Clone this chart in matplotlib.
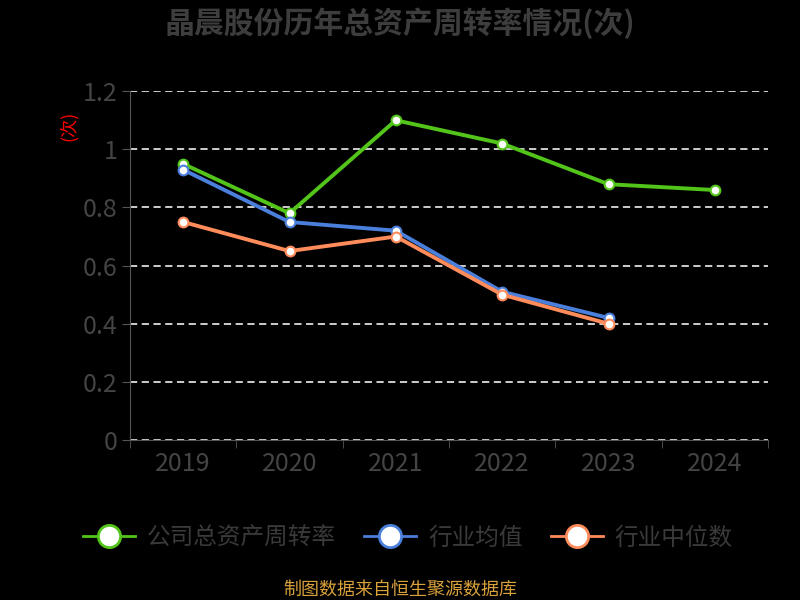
import matplotlib
matplotlib.use('Agg')
import matplotlib.pyplot as plt
from matplotlib.lines import Line2D

plt.rcParams['font.family'] = ['Noto Sans CJK SC', 'DejaVu Sans']

years = ['2019', '2020', '2021', '2022', '2023', '2024']
company = [0.95, 0.78, 1.10, 1.02, 0.88, 0.86]
industry_avg = [0.93, 0.75, 0.72, 0.51, 0.42]
industry_med = [0.75, 0.65, 0.70, 0.50, 0.40]

names = ['公司总资产周转率', '行业均值', '行业中位数']
colors = ['#52c41a', '#4a7fdc', '#ff8c5a']
text_gray = '#444444'

fig = plt.figure(figsize=(8, 6), dpi=100, facecolor='black')
ax = fig.add_axes([0.1625, 0.2667, 0.7975, 0.5813])
ax.set_facecolor('black')

x = list(range(len(years)))
for vals, c in zip([company, industry_avg, industry_med], colors):
    ax.plot(x[:len(vals)], vals, color=c, lw=2.8, marker='o', ms=7,
            mfc='white', mec=c, mew=1.5, zorder=3)

ax.set_xlim(-0.5, 5.5)
ax.set_ylim(0, 1.2)
ax.set_yticks([0, 0.2, 0.4, 0.6, 0.8, 1.0, 1.2])
ax.set_yticklabels(['0', '0.2', '0.4', '0.6', '0.8', '1', '1.2'])
ax.set_xticks(x)
ax.set_xticklabels(years)
ax.set_xticks([i + 0.5 for i in range(-1, 6)], minor=True)
ax.tick_params(axis='x', which='major', length=0, colors=text_gray, labelsize=18, pad=8)
ax.tick_params(axis='x', which='minor', length=6, color='#555555')
ax.tick_params(axis='y', length=6, color='#555555', colors=text_gray, labelsize=18, pad=3)
ax.yaxis.grid(True, color='#dddddd', ls=(0, (4, 2.5)), lw=1.3)
for s in ['top', 'right']:
    ax.spines[s].set_visible(False)
ax.spines['left'].set_color('#555555')
ax.spines['bottom'].set_color('#555555')

ax.text(-0.097, 0.90, '(次)', transform=ax.transAxes, color='red', fontsize=13,
        rotation=90, ha='center', va='center')

fig.text(0.5, 0.962, '晶晨股份历年总资产周转率情况(次)', ha='center', va='center',
         fontsize=21.5, fontweight='bold', color='#3d3d3d')

handles = [Line2D([0], [0], color=c, lw=2, marker='o', ms=16, mfc='white', mec=c, mew=2)
           for c in colors]
fig.legend(handles, names, loc='center', bbox_to_anchor=(0.51, 0.103), ncol=3,
           frameon=False, fontsize=17, labelcolor='#3a3a3a', handlelength=2.2,
           columnspacing=1.2, handletextpad=0.5)

fig.text(0.5, 0.017, '制图数据来自恒生聚源数据库', ha='center', va='center',
         fontsize=13, color='#d8a13a')

fig.savefig('out.png', dpi=100, facecolor='black')
